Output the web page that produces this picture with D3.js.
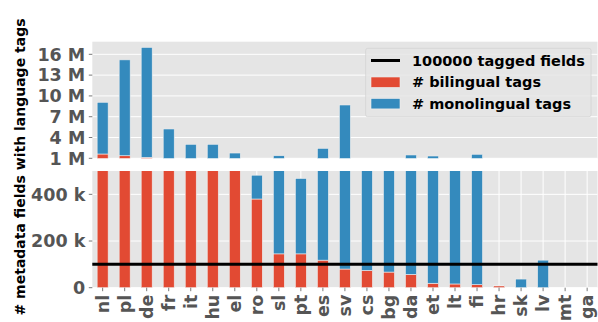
<!DOCTYPE html>
<html><head><meta charset="utf-8">
<script src="https://cdn.jsdelivr.net/npm/d3@7"></script>
<style>
html,body{margin:0;padding:0;background:#fff;}
svg{display:block;font-family:"DejaVu Sans",sans-serif;font-weight:bold;}
</style></head>
<body>
<svg id="chart" width="598" height="322"></svg>
<script>
const languages = ["nl","pl","de","fr","it","hu","el","ro","sl","pt","es","sv","cs","bg","da","et","lt","fi","hr","sk","lv","mt","ga"];
const bilingual = [1620000,1370000,1140000,800000,800000,800000,700000,380000,145000,145000,118000,80000,74000,67000,57000,19000,16000,13000,8000,0,0,0,0];
const monolingual = [7460000,13830000,15860000,4430000,2220000,2220000,1060000,102000,1225000,323000,2320000,8610000,726000,683000,1423000,1311000,784000,1567000,1500,37000,118000,0,0];
const topTicks = [1e6,4e6,7e6,10e6,13e6,16e6];
const topTickLabels = ["1 M","4 M","7 M","10 M","13 M","16 M"];
const bottomTicks = [0,200000,400000];
const bottomTickLabels = ["0","200 k","400 k"];
const thresholdValue = 100000;
const legendLabels = ["100000 tagged fields","# bilingual tags","# monolingual tags"];
const yLabel = "# metadata fields with language tags";

const RED = "#E24A33", BLUE = "#348ABD", BG = "#E5E5E5", TXT = "#555555";
const svg = d3.select("#chart");
const left = 92.3, right = 597.5;
const x = d3.scaleLinear().domain([-0.47, 22.47]).range([left, right]);
const bw = 11;

const panels = [
  {name:"top", y: d3.scaleLinear().domain([1e6, 17.82e6]).range([158.3, 41.7]), ticks: topTicks, labels: topTickLabels, vgrid:false},
  {name:"bot", y: d3.scaleLinear().domain([0, 500000]).range([287.7, 171]), ticks: bottomTicks, labels: bottomTickLabels, vgrid:true}
];

const defs = svg.append("defs");
panels.forEach(p => {
  const [y0, y1] = p.y.range();
  const g = svg.append("g");
  defs.append("clipPath").attr("id","clip-"+p.name)
    .append("rect").attr("x",left).attr("y",y1).attr("width",right-left).attr("height",y0-y1);
  g.append("rect").attr("x",left).attr("y",y1).attr("width",right-left).attr("height",y0-y1).attr("fill",BG);
  g.selectAll(".hg").data(p.ticks).join("line")
    .attr("x1",left).attr("x2",right)
    .attr("y1",d=>p.y(d)).attr("y2",d=>p.y(d))
    .attr("stroke","#fff").attr("stroke-width",1);
  if (p.vgrid) {
    g.selectAll(".vg").data(languages).join("line")
      .attr("x1",(d,i)=>x(i)).attr("x2",(d,i)=>x(i))
      .attr("y1",y1).attr("y2",y0)
      .attr("stroke","#fff").attr("stroke-width",1);
  }
  const bars = g.append("g").attr("clip-path","url(#clip-"+p.name+")");
  bars.selectAll(".b").data(languages).join("rect")
    .attr("x",(d,i)=>x(i)-bw/2).attr("width",bw)
    .attr("y",(d,i)=>p.y(bilingual[i])).attr("height",(d,i)=>Math.max(0,p.y(0) - p.y(bilingual[i])))
    .attr("fill",RED).attr("stroke","#EEEEEE").attr("stroke-width",0.6)
    .attr("display",(d,i)=>bilingual[i]>0?null:"none");
  bars.selectAll(".m").data(languages).join("rect")
    .attr("x",(d,i)=>x(i)-bw/2).attr("width",bw)
    .attr("y",(d,i)=>p.y(bilingual[i]+monolingual[i]))
    .attr("height",(d,i)=>Math.max(0,p.y(bilingual[i]) - p.y(bilingual[i]+monolingual[i])))
    .attr("fill",BLUE).attr("stroke","#EEEEEE").attr("stroke-width",0.6)
    .attr("display",(d,i)=>monolingual[i]>0?null:"none");
  g.selectAll(".yt").data(p.ticks).join("line")
    .attr("x1",left-3.5).attr("x2",left).attr("y1",d=>p.y(d)).attr("y2",d=>p.y(d))
    .attr("stroke",TXT).attr("stroke-width",0.8);
  g.selectAll(".yl").data(p.ticks).join("text")
    .attr("x",left-7).attr("y",d=>p.y(d)).attr("dy","0.36em")
    .attr("text-anchor","end").attr("fill",TXT).attr("font-size","17.5px")
    .text((d,i)=>p.labels[i]);
  if (p.name==="bot") {
    g.append("line").attr("x1",left).attr("x2",right)
      .attr("y1",p.y(thresholdValue)).attr("y2",p.y(thresholdValue))
      .attr("stroke","#000").attr("stroke-width",3);
    g.selectAll(".xt").data(languages).join("line")
      .attr("x1",(d,i)=>x(i)).attr("x2",(d,i)=>x(i))
      .attr("y1",y0).attr("y2",y0+3.5).attr("stroke",TXT).attr("stroke-width",0.8);
    g.selectAll(".xl").data(languages).join("text")
      .attr("transform",(d,i)=>`translate(${x(i)},${y0+7}) rotate(-90)`)
      .attr("dy","0.36em").attr("text-anchor","end")
      .attr("fill",TXT).attr("font-size","17.5px").text(d=>d);
  }
});

const lg = svg.append("g");
lg.append("rect").attr("x",365.7).attr("y",48.3).attr("width",225.3).attr("height",68.4)
  .attr("rx",2).attr("fill","rgba(229,229,229,0.8)").attr("stroke","#d3d3d3").attr("stroke-width",0.8);
const rows = [60.5, 82.2, 103.7];
lg.append("line").attr("x1",371).attr("x2",400).attr("y1",rows[0]).attr("y2",rows[0]).attr("stroke","#000").attr("stroke-width",3);
lg.append("rect").attr("x",371).attr("y",rows[1]-5.2).attr("width",29).attr("height",10.4).attr("fill",RED).attr("stroke","#EEEEEE").attr("stroke-width",0.6);
lg.append("rect").attr("x",371).attr("y",rows[2]-5.2).attr("width",29).attr("height",10.4).attr("fill",BLUE).attr("stroke","#EEEEEE").attr("stroke-width",0.6);
lg.selectAll(".lt").data(legendLabels).join("text")
  .attr("x",412).attr("y",(d,i)=>rows[i]).attr("dy","0.36em")
  .attr("font-size","14.5px").attr("fill","#000").text(d=>d);

svg.append("text").attr("transform","translate(20,167) rotate(-90)")
  .attr("dy","0.36em").attr("text-anchor","middle").attr("font-size","14px").attr("fill","#000")
  .text(yLabel);
</script>
</body></html>
